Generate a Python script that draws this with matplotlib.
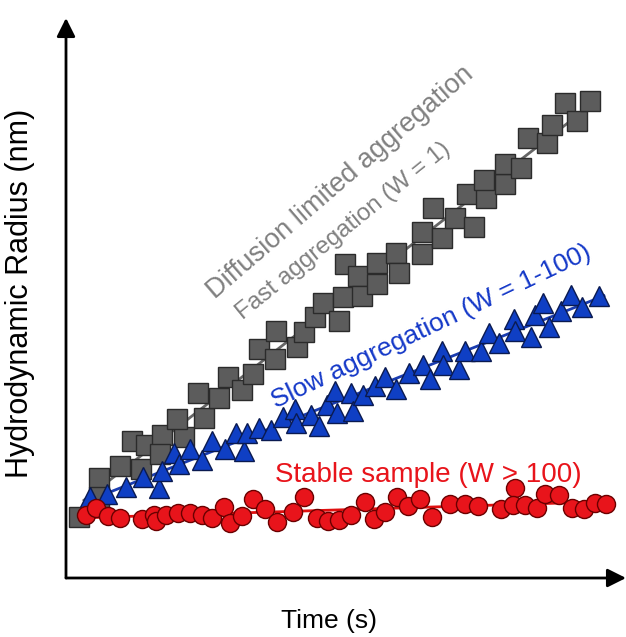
import matplotlib
matplotlib.use("Agg")
import matplotlib.pyplot as plt
import numpy as np

plt.rcParams['font.family'] = ['Liberation Sans', 'DejaVu Sans']

# fast aggregation (W = 1) (arbitrary units)
fast_t = [13, 33, 33, 54, 75, 66, 80, 96, 94, 118, 111, 138, 132, 153, 162, 176, 187,
          193, 209, 210, 231, 238, 249, 257, 273, 277, 279, 292, 296, 311, 311, 330, 333,
          356, 356, 367, 376, 389, 408, 401, 420, 418, 439, 439, 455, 462, 481, 486, 499,
          511, 524]
fast_r = [61, 100, 81, 112, 109, 137, 133, 143, 124, 141, 159, 160, 185, 180, 201, 188, 204,
          229, 219, 247, 231, 246, 261, 275, 257, 281, 314, 302, 282, 315, 294, 325, 305,
          346, 324, 370, 340, 360, 351, 384, 380, 398, 394, 414, 410, 440, 435, 453, 475,
          457, 477]

# slow aggregation (W = 1-100)
slow_t = [24, 41, 60, 77, 93, 96, 108, 113, 124, 136, 146, 159, 170, 178, 181, 193, 205,
          217, 229, 230, 245, 253, 261, 269, 271, 285, 287, 297, 309, 319, 330, 343, 357,
          364, 376, 377, 393, 399, 415, 423, 433, 448, 449, 465, 469, 477, 483, 495, 505,
          516, 533]
slow_r = [81, 84, 91, 101, 90, 107, 125, 114, 129, 118, 137, 129, 145, 127, 145, 150, 148,
          161, 169, 155, 163, 152, 173, 187, 165, 185, 167, 183, 192, 201, 189, 205, 213,
          199, 227, 213, 209, 227, 227, 245, 235, 259, 247, 241, 263, 275, 251, 267, 283,
          271, 282]

# stable sample (W > 100)
stable_t = [20, 30, 42, 54, 76, 88, 90, 100, 112, 124, 136, 146, 158, 164, 176, 187, 199,
            211, 227, 238, 251, 262, 273, 285, 299, 308, 319, 331, 342, 354, 366, 384, 399,
            412, 435, 449, 447, 459, 471, 479, 493, 506, 518, 529, 540]
stable_r = [63, 70, 62, 60, 59, 63, 57, 63, 65, 65, 63, 60, 71, 55, 62, 79, 69, 56, 66, 81,
            60, 57, 58, 63, 76, 59, 66, 81, 72, 79, 61, 74, 74, 72, 69, 90, 73, 73, 70, 84,
            83, 70, 69, 75, 74]

fig = plt.figure(figsize=(6.26, 6.37), dpi=100)
ax = fig.add_axes([66 / 626, 59 / 637, 560 / 626, 560 / 637])
ax.set_xlim(0, 560)
ax.set_ylim(0, 560)
for s in ax.spines.values():
    s.set_visible(False)
ax.set_xticks([])
ax.set_yticks([])

series = [
    (fast_t, fast_r, 's', '#5c5c5c', '#2b2b2b', '#666666', 13.8),
    (slow_t, slow_r, '^', '#0f3fc4', '#0a1a50', '#1a3cb0', 14),
    (stable_t, stable_r, 'o', '#e8141b', '#6a0000', '#e01010', 13),
]
for t, r, mk, fc, ec, lc, ms in series:
    t = np.array(t)
    r = np.array(r)
    k, b = np.polyfit(t, r, 1)
    xs = np.array([t.min() + 5, t.max() + 5])
    ax.plot(xs, k * xs + b, color=lc, lw=2, zorder=2)
    ax.plot(t, r, mk, ms=ms, mfc=fc, mec=ec, mew=1, zorder=3, clip_on=False)

ax.text(274, 395, "Diffusion limited aggregation", rotation=40.7, rotation_mode='anchor',
        ha='center', va='center', fontsize=19.5, color='#808080')
ax.text(277, 347, "Fast aggregation (W = 1)", rotation=39, rotation_mode='anchor',
        ha='center', va='center', fontsize=17.5, color='#808080')
ax.text(365, 251, "Slow aggregation (W = 1-100)", rotation=25.5, rotation_mode='anchor',
        ha='center', va='center', fontsize=19, color='#1438c8')
ax.text(362, 103, "Stable sample (W > 100)", ha='center', va='center',
        fontsize=20, color='#e8141b')

# axis arrows
arrow = dict(arrowstyle='-|>', color='black', lw=2, mutation_scale=28, shrinkA=0, shrinkB=0)
ax.annotate('', xy=(0, 1), xytext=(0, 0), xycoords='axes fraction', arrowprops=arrow,
            annotation_clip=False)
ax.annotate('', xy=(1, 0), xytext=(0, 0), xycoords='axes fraction', arrowprops=arrow,
            annotation_clip=False)

ax.set_xlabel("Time (s)", fontsize=19)
ax.xaxis.set_label_coords(0.47, -0.055)
ax.set_ylabel("Hydrodynamic Radius (nm)", fontsize=22)
ax.yaxis.set_label_coords(-0.055, 0.509)

fig.savefig("out.png", dpi=100)
